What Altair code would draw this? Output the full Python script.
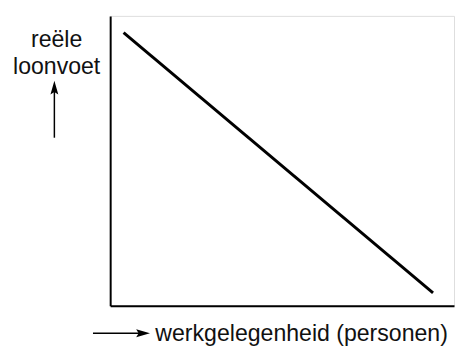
import altair as alt
import pandas as pd

# Data (demand curve for labour, in relative units 0-100)
employment = [3.9, 93.9]
real_wage = [94.2, 4.4]
y_title = ["reële", "loonvoet"]
x_title = "werkgelegenheid (personen)"

FONT = "Liberation Sans, Arial, sans-serif"

line_df = pd.DataFrame({"x": employment, "y": real_wage})
one = pd.DataFrame({"a": [0]})

xscale = alt.Scale(domain=[0, 100], nice=False, zero=False)
yscale = alt.Scale(domain=[0, 100], nice=False, zero=False)

base_axis = dict(ticks=False, labels=False, grid=False, domain=True,
                 domainColor="black", domainWidth=2,
                 titleFont=FONT, titleFontSize=23.5, titleFontWeight="normal",
                 titleColor="#111")

line = alt.Chart(line_df).mark_line(color="black", strokeWidth=3).encode(
    x=alt.X("x:Q", scale=xscale,
            axis=alt.Axis(title=x_title, titleAngle=0, titleAlign="left",
                          titleBaseline="alphabetic", titleX=45.5, titleY=35,
                          **base_axis)),
    y=alt.Y("y:Q", scale=yscale,
            axis=alt.Axis(title=y_title, titleAngle=0, titleAlign="center",
                          titleBaseline="alphabetic", titleX=-55, titleY=31,
                          titleLineHeight=28, **base_axis)),
)

# Arrow shafts
up_shaft = alt.Chart(one).mark_rule(color="black", strokeWidth=1.5).encode(
    x=alt.value(-56.8), y=alt.value(72), y2=alt.value(124))
right_shaft = alt.Chart(one).mark_rule(color="black", strokeWidth=1.5).encode(
    x=alt.value(-17.5), x2=alt.value(34), y=alt.value(323))

# Arrow heads
up_head = alt.Chart(one).mark_point(
    shape="M0,-1L0.57,1L0,0.65L-0.57,1Z", filled=True, size=196,
    color="black", opacity=1, strokeWidth=0).encode(
    x=alt.value(-56.8), y=alt.value(73))
right_head = alt.Chart(one).mark_point(
    shape="M1,0L-1,0.57L-0.65,0L-1,-0.57Z", filled=True, size=196,
    color="black", opacity=1, strokeWidth=0).encode(
    x=alt.value(33.5), y=alt.value(323))

chart = alt.layer(line, up_shaft, right_shaft, up_head, right_head).properties(
    width=350, height=295,
    autosize=alt.AutoSizeParams(type="none"),
    padding={"left": 104, "top": 5, "right": 1, "bottom": 39},
).configure_view(stroke=None).configure(background="white")

chart.save("out.html", embed_options={"renderer": "svg", "actions": False})
